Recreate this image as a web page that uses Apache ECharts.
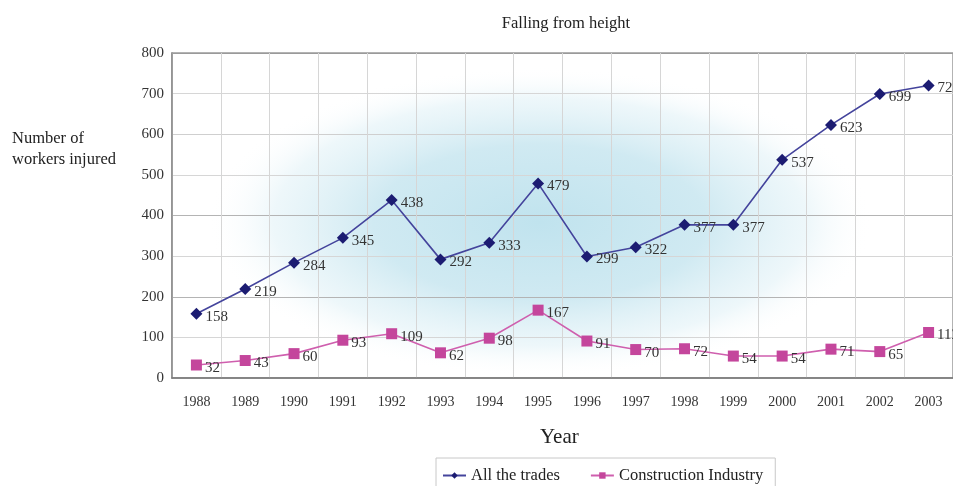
<!DOCTYPE html>
<html>
<head>
<meta charset="utf-8">
<title>Falling from height</title>
<script src="https://cdn.jsdelivr.net/npm/echarts@6/dist/echarts.min.js"></script>
<style>
  html, body { margin: 0; padding: 0; background: #fff; }
  #chart { width: 953px; height: 486px; }
</style>
</head>
<body>
<div id="chart"></div>
<script>
// Injuries from falling from height, by year
const years = ['1988', '1989', '1990', '1991', '1992', '1993', '1994', '1995',
               '1996', '1997', '1998', '1999', '2000', '2001', '2002', '2003'];
const allTrades = [158, 219, 284, 345, 438, 292, 333, 479, 299, 322, 377, 377, 537, 623, 699, 720];
const construction = [32, 43, 60, 93, 109, 62, 98, 167, 91, 70, 72, 54, 54, 71, 65, 112];
const yTicks = [0, 100, 200, 300, 400, 500, 600, 700, 800];

const serif = '"Liberation Serif", "Times New Roman", serif';

const chart = echarts.init(document.getElementById('chart'));

chart.setOption({
  backgroundColor: '#ffffff',
  animation: false,
  textStyle: { fontFamily: serif },
  title: {
    text: 'Falling from height',
    left: 561,
    top: 10,
    textAlign: 'center',
    textStyle: { fontFamily: serif, fontSize: 16.5, fontWeight: 'normal', color: '#222' }
  },
  graphic: [
    {
      // soft blue glow behind the plot
      type: 'circle',
      silent: true,
      z: -10,
      x: 540,
      y: 222,
      scaleX: 2.15,
      scaleY: 1,
      shape: { cx: 0, cy: 0, r: 155 },
      style: {
        fill: {
          type: 'radial', x: 0.5, y: 0.5, r: 0.5,
          colorStops: [
            { offset: 0, color: 'rgba(192,227,238,1)' },
            { offset: 0.5, color: 'rgba(204,232,241,0.92)' },
            { offset: 0.8, color: 'rgba(226,242,247,0.6)' },
            { offset: 1, color: 'rgba(255,255,255,0)' }
          ]
        }
      }
    },
    {
      type: 'text',
      left: 12,
      top: 128,
      style: {
        text: 'Number of\nworkers injured',
        font: '16.5px ' + serif,
        fill: '#222',
        lineHeight: 21
      }
    },
    {
      type: 'text',
      left: 540,
      top: 427,
      style: {
        text: 'Year',
        font: '21px ' + serif,
        fill: '#222'
      }
    }
  ],
  legend: {
    left: 436,
    top: 458,
    padding: [9, 12, 40, 6],
    borderColor: '#c8c8c8',
    borderWidth: 1,
    itemWidth: 23,
    itemHeight: 8,
    itemGap: 30,
    textStyle: { fontFamily: serif, fontSize: 16.5, color: '#222' },
    data: ['All the trades', 'Construction Industry']
  },
  grid: {
    left: 172,
    right: -2,
    top: 53,
    bottom: 108,
    show: true,
    borderColor: '#9a9a9a',
    borderWidth: 1.5,
    backgroundColor: 'transparent'
  },
  xAxis: {
    type: 'category',
    data: years,
    boundaryGap: true,
    axisLine: { show: true, lineStyle: { color: '#777', width: 1.5 } },
    axisTick: { show: false },
    axisLabel: { fontFamily: serif, fontSize: 14, color: '#333', margin: 17 },
    splitLine: { show: true, lineStyle: { color: '#d6d6d6', width: 1 } }
  },
  yAxis: {
    type: 'value',
    min: 0,
    max: 800,
    interval: 100,
    axisLine: { show: true, lineStyle: { color: '#8a8a8a', width: 1.5 } },
    axisTick: { show: false },
    axisLabel: {
      fontFamily: serif, fontSize: 15, color: '#333', margin: 8,
      formatter: v => (yTicks.indexOf(v) >= 0 ? String(v) : '')
    },
    splitLine: {
      show: true,
      lineStyle: {
        color: ['#bbb', '#d6d6d6', '#b4b4b4', '#d6d6d6', '#b4b4b4', '#d6d6d6', '#cfcfcf', '#d6d6d6', '#9a9a9a'],
        width: 1
      }
    }
  },
  series: [
    {
      name: 'All the trades',
      type: 'line',
      data: allTrades,
      symbol: 'diamond',
      symbolSize: 12,
      itemStyle: { color: '#1c1c72' },
      lineStyle: { color: '#44449c', width: 1.6 },
      label: {
        show: true,
        position: 'right',
        distance: 3,
        offset: [0, 3],
        fontFamily: serif,
        fontSize: 15,
        color: '#333'
      },
      z: 3
    },
    {
      name: 'Construction Industry',
      type: 'line',
      data: construction,
      symbol: 'rect',
      symbolSize: 11,
      itemStyle: { color: '#c4469c' },
      lineStyle: { color: '#cf5fae', width: 1.6 },
      label: {
        show: true,
        position: 'right',
        distance: 3,
        offset: [0, 3],
        fontFamily: serif,
        fontSize: 15,
        color: '#333'
      },
      z: 2
    }
  ]
});
</script>
</body>
</html>
